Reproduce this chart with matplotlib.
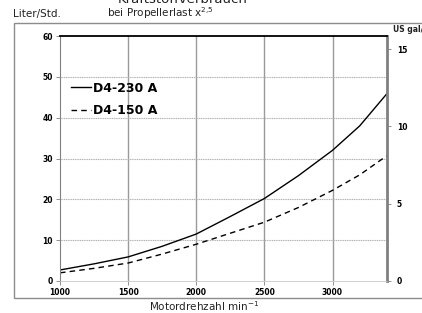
import numpy as np
import matplotlib
matplotlib.use('Agg')
import matplotlib.pyplot as plt
from matplotlib.patches import Rectangle

# Drehzahl (min-1) and Verbrauch (Liter/Std.)
rpm = [1000, 1250, 1500, 1750, 2000, 2250, 2500, 2750, 3000, 3200, 3400]
d4_230 = [2.7, 4.2, 5.9, 8.5, 11.5, 15.8, 20.2, 25.8, 32.0, 38.0, 45.9]
d4_150 = [2.0, 3.1, 4.4, 6.6, 9.0, 11.7, 14.4, 18.0, 22.2, 26.0, 30.7]

x_ticks = [1000, 1500, 2000, 2500, 3000]
l_ticks = [0, 10, 20, 30, 40, 50, 60]
gal_ticks = [0, 5, 10, 15]
L_PER_GAL = 3.785

fig = plt.figure(figsize=(4.22, 3.13), dpi=100)
ax = fig.add_axes([60 / 422, 32 / 313, 327 / 422, 245 / 313])

ax.plot(rpm, d4_230, color='black', lw=1.0, label='D4-230 A')
ax.plot(rpm, d4_150, color='black', lw=1.0, ls=(0, (4, 3)), label='D4-150 A')

ax.set_xlim(1000, 3400)
ax.set_ylim(0, 60)
ax.set_xticks(x_ticks)
ax.set_yticks(l_ticks)
ax.tick_params(labelsize=5.5, length=3, width=0.6, color='#808080', pad=2)
for t in ax.get_xticklabels() + ax.get_yticklabels():
    t.set_fontweight('bold')

for x in x_ticks[1:]:
    ax.axvline(x, color='#9a9a9a', lw=1.0, zorder=0)
for y in l_ticks[1:-1]:
    ax.axhline(y, color='#b0b0b0', lw=0.8, ls=(0, (1, 0.6)), zorder=0)

ax.spines['top'].set_color('black')
ax.spines['top'].set_linewidth(1.3)
ax.spines['left'].set_color('#808080')
ax.spines['left'].set_linewidth(0.8)
ax.spines['bottom'].set_color('#c8c8c8')
ax.spines['bottom'].set_linewidth(0.6)
ax.spines['right'].set_color('#808080')
ax.spines['right'].set_linewidth(2.0)

ax2 = ax.twinx()
ax2.set_ylim(0, 60 / L_PER_GAL)
ax2.set_yticks(gal_ticks)
ax2.tick_params(labelsize=5.5, length=3, width=0.6, color='#808080', pad=4)
for t in ax2.get_yticklabels():
    t.set_fontweight('bold')
for s in ax2.spines.values():
    s.set_visible(False)

leg = ax.legend(loc='upper left', bbox_to_anchor=(0.0, 0.86), frameon=False,
                prop={'weight': 'bold', 'size': 9}, handlelength=1.6,
                handletextpad=0.15, labelspacing=0.75)

# outer frame
fig.patches.append(Rectangle((14 / 422, 15 / 313), 1.0, 275 / 313,
                             transform=fig.transFigure, fill=False,
                             edgecolor='#8c8c8c', lw=1.0))

fig.text(183 / 422, 1 - 3 / 313, 'Kraftstoffverbrauch', ha='center',
         va='baseline', fontsize=9.5, color='#222222')
fig.text(160 / 422, 1 - 13.5 / 313, 'bei Propellerlast x$^{2{,}5}$',
         ha='center', va='center', fontsize=7.5, color='#222222')
fig.text(13 / 422, 1 - 13.5 / 313, 'Liter/Std.', ha='left', va='center',
         fontsize=7.5, color='#222222')
fig.text(393 / 422, 1 - 30 / 313, 'US gal/', ha='left', va='center',
         fontsize=5.5, fontweight='bold', color='#222222')
fig.text(204 / 422, 1 - 306 / 313, 'Motordrehzahl min$^{\\mathregular{-1}}$',
         ha='center', va='center', fontsize=7.5, color='#222222')

fig.savefig('out.png', dpi=100)
